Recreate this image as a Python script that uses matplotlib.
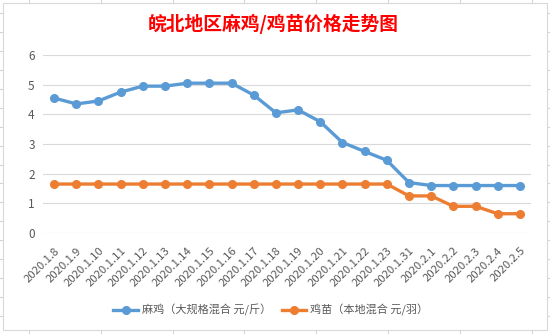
import matplotlib
matplotlib.use("Agg")
import matplotlib.pyplot as plt
from matplotlib.lines import Line2D
from matplotlib.patches import Rectangle
from matplotlib.transforms import ScaledTranslation

plt.rcParams['font.family'] = ['Noto Sans CJK SC', 'DejaVu Sans']

dates = ["2020.1.8", "2020.1.9", "2020.1.10", "2020.1.11", "2020.1.12", "2020.1.13",
         "2020.1.14", "2020.1.15", "2020.1.16", "2020.1.17", "2020.1.18", "2020.1.19",
         "2020.1.20", "2020.1.21", "2020.1.22", "2020.1.23", "2020.1.31", "2020.2.1",
         "2020.2.2", "2020.2.3", "2020.2.4", "2020.2.5"]
maji = [4.55, 4.35, 4.45, 4.75, 4.95, 4.95, 5.05, 5.05, 5.05, 4.65, 4.05, 4.15,
        3.75, 3.05, 2.75, 2.45, 1.7, 1.6, 1.6, 1.6, 1.6, 1.6]
jimiao = [1.65, 1.65, 1.65, 1.65, 1.65, 1.65, 1.65, 1.65, 1.65, 1.65, 1.65, 1.65,
          1.65, 1.65, 1.65, 1.65, 1.25, 1.25, 0.9, 0.9, 0.65, 0.65]
series_names = ["麻鸡（大规格混合 元/斤）", "鸡苗（本地混合 元/羽）"]
title = "皖北地区麻鸡/鸡苗价格走势图"

W, H = 550, 334
fig = plt.figure(figsize=(W / 100, H / 100), dpi=100)

# spreadsheet grid behind the chart
gcol = "#D4D4D4"
x = 28.7
while x < W:
    fig.add_artist(Line2D([x / W, x / W], [0, 1], color=gcol, lw=0.8, zorder=-3))
    x += 71.9
y = 13.3
while y < H:
    fig.add_artist(Line2D([0, 1], [1 - y / H, 1 - y / H], color=gcol, lw=0.8, zorder=-3))
    y += 18.9
# chart area
fig.add_artist(Rectangle((3 / W, 1 - 330 / H), 544 / W, 327 / H, transform=fig.transFigure,
                         facecolor="white", edgecolor="#D9D9D9", lw=0.8, zorder=-2))

ax = fig.add_axes([43 / W, 1 - 233 / H, 488 / W, 178 / H])
ax.set_facecolor("none")
xs = list(range(len(dates)))
l1, = ax.plot(xs, maji, color="#5B9BD5", lw=2.4, marker="o", ms=5.5, label=series_names[0])
l2, = ax.plot(xs, jimiao, color="#ED7D31", lw=2.4, marker="o", ms=5.5, label=series_names[1])
ax.set_xlim(-0.5, len(dates) - 0.5)
ax.set_ylim(0, 6)
ax.set_yticks(range(0, 7))
ax.yaxis.grid(True, color="#D9D9D9", lw=0.8)
ax.set_axisbelow(True)
for s in ax.spines.values():
    s.set_visible(False)
ax.set_xticks(xs)
ax.set_xticklabels(dates, rotation=45, ha="right", rotation_mode="anchor", fontsize=8.2, color="#595959")
shift = ScaledTranslation(5 / 100, 0, fig.dpi_scale_trans)
for lab in ax.get_xticklabels():
    lab.set_transform(lab.get_transform() + shift)
ax.tick_params(axis="x", length=0, pad=9)
ax.tick_params(axis="y", length=0, pad=6, labelsize=8.5, labelcolor="#595959")

fig.text(273 / W, 1 - 23.5 / H, title, color="red", fontsize=13.5, fontweight="bold", ha="center", va="center")
fig.legend(handles=[l1, l2], loc="center", bbox_to_anchor=(271 / W, 1 - 310 / H), ncol=2,
           frameon=False, fontsize=8, labelcolor="#595959", handlelength=2.2, columnspacing=0.9,
           handletextpad=0.4)

fig.savefig("out.png", dpi=100)
